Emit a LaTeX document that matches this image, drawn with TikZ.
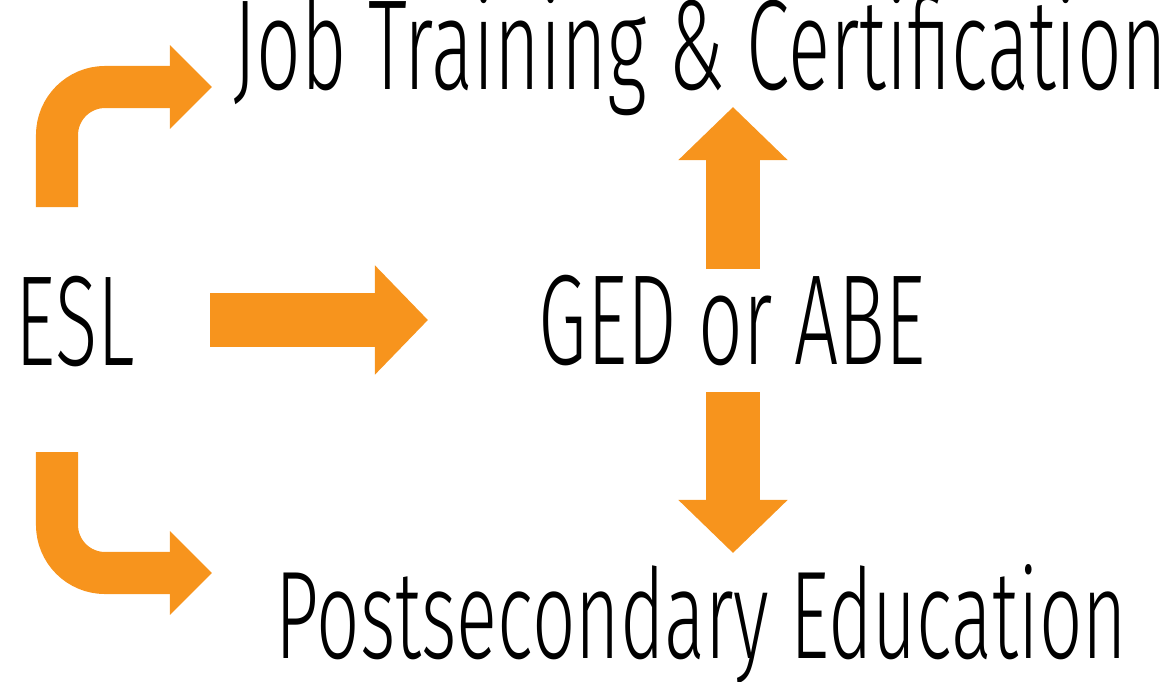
\documentclass[tikz,border=0pt]{standalone}
\usepackage{fontspec}
\setmainfont{Fira Sans Light}[FakeStretch=0.61]
\usepackage{tikz}
\usetikzlibrary{arrows.meta, positioning}

\definecolor{pathorange}{RGB}{247,148,29}

\tikzset{
  steptext/.style={inner sep=0pt, anchor=base west, font=\fontsize{36.5}{42}\selectfont},
  flowarrow/.style={draw=pathorange, line width=0.54cm,
    -{Triangle[length=0.53cm, width=1.06cm]}},
  bentarrow/.style={draw=pathorange, line width=0.42cm, rounded corners=0.48cm,
    -{Triangle[length=0.42cm, width=0.81cm]}}
}

\begin{document}
\begin{tikzpicture}[x=0.01cm, y=-0.01cm]
\useasboundingbox (0,0) rectangle (1172,681);

\node[steptext] (esl) at (15,365) {ESL};
\node[steptext] (ged) at (538,364) {GED or ABE};
\node[steptext] (jobs) at (233,89) {Job Training \& Certification};
\node[steptext, font=\fontsize{35.5}{42}\selectfont] (postsec) at (275,658) {Postsecondary Education};

\coordinate (eslTop) at (57,207);
\coordinate (jobsIn) at (212,87);
\coordinate (eslBot) at (57,452);
\coordinate (postIn) at (212,573);
\coordinate (eslOut) at (210,320);
\coordinate (gedIn) at (428,320);
\coordinate (gedUp) at (733,269);
\coordinate (jobsBot) at (733,107);
\coordinate (gedDown) at (733,392);
\coordinate (postTop) at (733,553);

\draw[bentarrow] (eslTop) |- (jobsIn);
\draw[bentarrow] (eslBot) |- (postIn);
\draw[flowarrow] (eslOut) -- (gedIn);
\draw[flowarrow] (gedUp) -- (jobsBot);
\draw[flowarrow] (gedDown) -- (postTop);
\end{tikzpicture}
\end{document}
